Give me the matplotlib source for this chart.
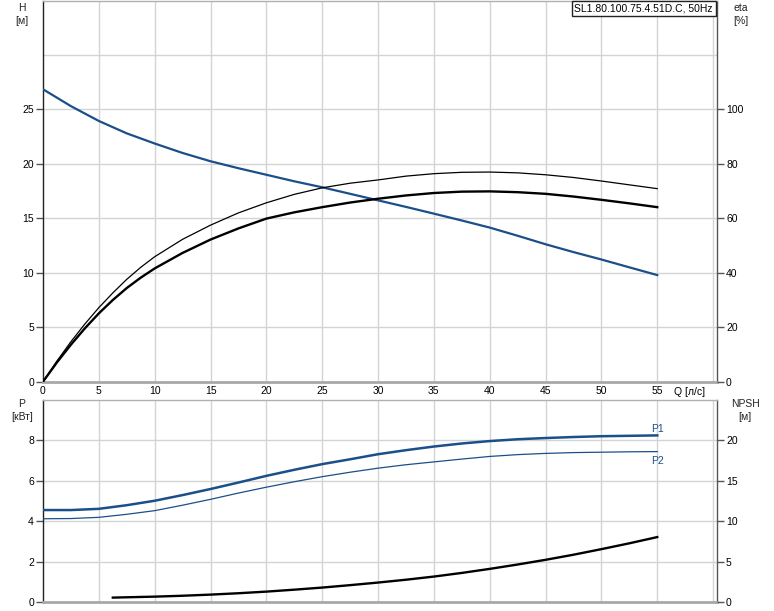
import matplotlib
matplotlib.use("Agg")
import matplotlib.pyplot as plt

plt.rcParams['font.family'] = ['Liberation Sans', 'DejaVu Sans']

# ---------------- data ----------------
q = [0, 2.5, 5, 7.5, 10, 12.5, 15, 17.5, 20, 22.5, 25, 27.5, 30, 32.5, 35,
     37.5, 40, 42.5, 45, 47.5, 50, 52.5, 55]
head = [26.85, 25.3, 23.94, 22.8, 21.87, 21.0, 20.24, 19.6, 19.0, 18.4, 17.85,
        17.25, 16.65, 16.05, 15.43, 14.8, 14.15, 13.4, 12.62, 11.9, 11.22, 10.5, 9.79]
q_eta = [0, 1.25, 2.5, 3.75, 5, 6.25, 7.5, 8.75, 10, 12.5, 15, 17.5, 20, 22.5,
         25, 27.5, 30, 32.5, 35, 37.5, 40, 42.5, 45, 47.5, 50, 52.5, 55]
eta_total = [0, 7.1, 13.6, 19.6, 25.1, 30.0, 34.4, 38.2, 41.6, 47.3, 52.2,
             56.3, 59.9, 62.2, 64.1, 65.8, 67.2, 68.4, 69.3, 69.8, 69.9, 69.6,
             69.0, 68.0, 66.8, 65.5, 64.1]
eta_pump = [0, 7.6, 14.7, 21.2, 27.2, 32.6, 37.6, 42.0, 45.9, 52.3, 57.5,
            62.0, 65.7, 68.8, 71.2, 72.9, 74.1, 75.5, 76.4, 76.9, 77.0, 76.7,
            76.0, 75.0, 73.7, 72.3, 70.9]
p1 = [4.56, 4.56, 4.62, 4.8, 5.02, 5.3, 5.6, 5.92, 6.25, 6.55, 6.83, 7.07,
      7.32, 7.52, 7.70, 7.85, 7.97, 8.06, 8.12, 8.17, 8.21, 8.23, 8.25]
p2 = [4.13, 4.14, 4.2, 4.35, 4.53, 4.8, 5.09, 5.4, 5.69, 5.96, 6.21, 6.43,
      6.63, 6.8, 6.94, 7.08, 7.21, 7.3, 7.36, 7.4, 7.42, 7.44, 7.45]
q_npsh = [6.25, 10, 12.5, 15, 17.5, 20, 22.5, 25, 27.5, 30, 32.5, 35, 37.5,
          40, 42.5, 45, 47.5, 50, 52.5, 55]
npsh = [0.58, 0.70, 0.81, 0.95, 1.12, 1.32, 1.56, 1.82, 2.12, 2.44, 2.79,
        3.18, 3.63, 4.13, 4.67, 5.25, 5.88, 6.57, 7.29, 8.06]

x_ticks = [0, 5, 10, 15, 20, 25, 30, 35, 40, 45, 50, 55]
h_ticks = [0, 5, 10, 15, 20, 25]
eta_ticks = [0, 20, 40, 60, 80, 100]
p_ticks = [0, 2, 4, 6, 8]
npsh_ticks = [0, 5, 10, 15, 20]
title = "SL1.80.100.75.4.51D.C, 50Hz"

BLUE = '#1b4f8a'
GRID = '#d4d4d4'
FS = 7.5
W, H = 774, 611

fig = plt.figure(figsize=(W / 100, H / 100), dpi=100)

def frac(x0, y0, x1, y1):
    return [x0 / W, 1 - y1 / H, (x1 - x0) / W, (y1 - y0) / H]

XMAX = 60.35

def style(ax):
    ax.set_xlim(0, XMAX)
    for v in range(5, 61, 5):
        ax.axvline(v, color=GRID, lw=1, zorder=0)
    ax.spines['left'].set_color('#222222')
    ax.spines['left'].set_linewidth(1)
    ax.spines['right'].set_color('#555555')
    ax.spines['right'].set_linewidth(1)
    ax.spines['top'].set_color('#b0b0b0')
    ax.spines['top'].set_linewidth(1)
    ax.spines['bottom'].set_color('#a8a8a8')
    ax.spines['bottom'].set_linewidth(2)
    ax.tick_params(axis='y', length=5, width=1, color='#555555',
                   labelsize=FS, pad=1.5)
    ax.tick_params(axis='x', length=0, labelsize=FS, pad=3)

# ---------------- top axes ----------------
ax1 = fig.add_axes(frac(43, 0.5, 717, 381.7))
style(ax1)
ax1.set_ylim(0, 35)
ax1.set_yticks(h_ticks)
for v in h_ticks[1:] + [30]:
    ax1.axhline(v, color=GRID, lw=1, zorder=0)
ax1.set_xticks(x_ticks)
ax1.set_xticklabels([str(v) for v in x_ticks])

ax1.plot(q, head, color=BLUE, lw=1.6, zorder=3)
ax1r = ax1.twinx()
ax1r.set_xlim(0, XMAX)
ax1r.set_ylim(0, 140)
ax1r.set_yticks(eta_ticks)
for s in ax1r.spines.values():
    s.set_visible(False)
ax1r.tick_params(axis='y', length=5, width=1, color='#555555',
                 labelsize=FS, pad=1.5)
ax1r.plot(q_eta, eta_pump, color='black', lw=0.9, zorder=3)
ax1r.plot(q_eta, eta_total, color='black', lw=1.7, zorder=3)

# ---------------- bottom axes ----------------
ax2 = fig.add_axes(frac(43, 400, 717, 602.3))
style(ax2)
ax2.set_ylim(0, 10)
ax2.set_yticks(p_ticks)
for v in p_ticks[1:]:
    ax2.axhline(v, color=GRID, lw=1, zorder=0)
ax2.set_xticks([])
ax2.plot(q, p1, color=BLUE, lw=1.8, zorder=3)
ax2.plot(q, p2, color=BLUE, lw=0.9, zorder=3)

ax2r = ax2.twinx()
ax2r.set_xlim(0, XMAX)
ax2r.set_ylim(0, 25)
ax2r.set_yticks(npsh_ticks)
for s in ax2r.spines.values():
    s.set_visible(False)
ax2r.tick_params(axis='y', length=5, width=1, color='#555555',
                 labelsize=FS, pad=1.5)
ax2r.plot(q_npsh, npsh, color='black', lw=1.7, zorder=3)

ax2.text(q[-1], p1[-1] + 0.05, 'P1', color=BLUE, fontsize=FS,
         ha='center', va='bottom')
ax2.text(q[-1], p2[-1] - 0.2, 'P2', color=BLUE, fontsize=FS,
         ha='center', va='top')

# ---------------- labels ----------------
txt = '#222222'
fig.text(22 / W, 1 - 3 / H, 'H\n[м]', ha='center', va='top', fontsize=FS,
         color=txt, linespacing=1.35)
fig.text(741 / W, 1 - 3 / H, 'eta\n[%]', ha='center', va='top', fontsize=FS,
         color=txt, linespacing=1.35)
fig.text(22 / W, 1 - 399 / H, 'P\n[кВт]', ha='center', va='top', fontsize=FS,
         color=txt, linespacing=1.35)
fig.text(745 / W, 1 - 399 / H, 'NPSH\n[м]', ha='center', va='top',
         fontsize=FS, color=txt, linespacing=1.35)
fig.text(690 / W, 1 - 392 / H, 'Q [л/с]', ha='center', va='center',
         fontsize=FS, color='black')
fig.text(713 / W, 1 - 8.5 / H, title, ha='right', va='center', fontsize=FS,
         color='black',
         bbox=dict(boxstyle='square,pad=0.25', fc='white', ec='#222222', lw=1))

fig.savefig('out.png', dpi=100)
